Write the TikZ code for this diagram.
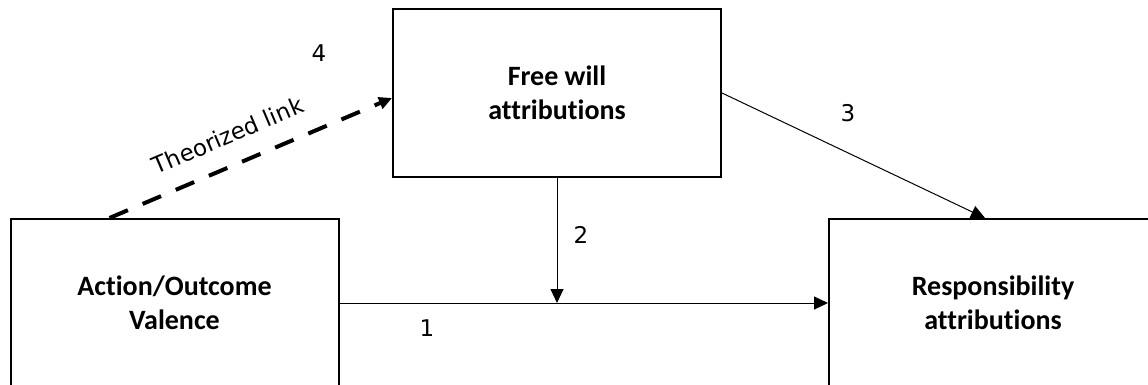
\documentclass[tikz,border=0pt]{standalone}
\usepackage{fontspec}
\setmainfont{Carlito}[RawFeature={-liga;-clig;-dlig}]
\newfontfamily\dvfont{DejaVu Sans}
\usetikzlibrary{arrows.meta,calc}
\tikzset{
  boxnode/.style={draw=black, line width=2pt, minimum width=328pt, minimum height=168pt,
    align=center, inner sep=0pt, font=\fontsize{28}{34}\selectfont\bfseries},
  thinarrow/.style={line width=1pt, -{Triangle[length=14pt,width=13pt]}},
  dasharrow/.style={line width=4pt, dash pattern=on 20pt off 16pt,
    -{Triangle[length=13pt,width=12pt]}},
  numlabel/.style={font=\dvfont\fontsize{23}{27}\selectfont, inner sep=0pt},
}
\begin{document}
\begin{tikzpicture}[x=1pt,y=-1pt]
\useasboundingbox (0,0) rectangle (1148,385);
\clip (0,0) rectangle (1148,385);
\node[boxnode] (left) at (174.5,303) {Action/Outcome\\Valence};
\node[boxnode] (free) at (557,93) {Free will\\attributions};
\node[boxnode] (right) at (993,303) {Responsibility\\attributions};
\coordinate (dstart) at ([xshift=100pt]left.north west);
\coordinate (dend) at ([yshift=-5pt]free.west);
\coordinate (mid) at (free.south |- left.east);
\coordinate (rtop) at ([xshift=-8pt]right.north);
\draw[thinarrow] (left.east) -- (right.west);
\draw[thinarrow] (free.south) -- (mid);
\draw[thinarrow] (free.east) -- (rtop);
\draw[dasharrow] (dstart) -- node[pos=0.46, sloped, above=19pt, inner sep=0pt,
  font=\dvfont\fontsize{23}{27}\selectfont] (tl) {Theorized link} (dend);
\node[numlabel] (n1) at (427,328) {1};
\node[numlabel] (n2) at (581,235) {2};
\node[numlabel] (n3) at (848,113) {3};
\node[numlabel] (n4) at (319,53) {4};
\end{tikzpicture}
\end{document}
